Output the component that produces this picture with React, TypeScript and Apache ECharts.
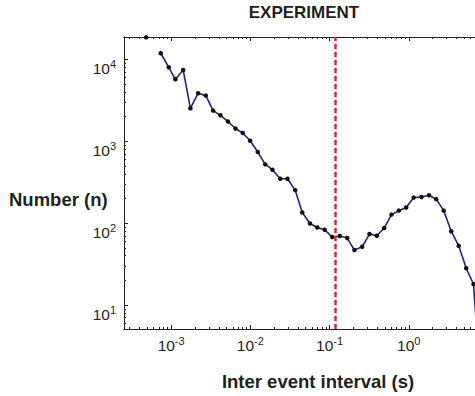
import React, { useEffect, useRef } from "react";
import * as echarts from "echarts";

// Inter event interval bins (s) and counts (count 0 = empty bin, gap)
const intervals = [
  4.83e-4, 5.97e-4, 7.39e-4, 9.33e-4, 1.13e-3, 1.42e-3, 1.75e-3, 2.19e-3, 2.74e-3, 3.39e-3,
  4.19e-3, 5.21e-3, 6.48e-3, 8.02e-3, 9.94e-3, 1.24e-2, 1.54e-2, 1.9e-2, 2.38e-2, 2.94e-2,
  3.68e-2, 4.52e-2, 5.66e-2, 7.0e-2, 8.67e-2, 0.108, 0.135, 0.167, 0.206, 0.258,
  0.319, 0.395, 0.489, 0.605, 0.748, 0.927, 1.156, 1.445, 1.8, 2.22,
  2.76, 3.43, 4.27, 5.31, 6.56, 8.13,
];
const counts = [
  18500, 0, 11840, 7980, 5700, 7400, 2520, 3850, 3600, 2360,
  2070, 1740, 1430, 1260, 1013, 738, 522, 449, 348, 348,
  253, 135, 98.8, 88.3, 83.0, 67.6, 69.5, 65.7, 46.9, 51.5,
  73.6, 70.2, 87.1, 127, 142, 155, 205, 208, 219, 196,
  142, 79.6, 52.8, 28.1, 18.0, 1,
];
const thresholdInterval = 0.117;
const xLimits = [2.54e-4, 10];
const yLimits = [5.1, 18700];
const xMajorTicks = [1e-3, 1e-2, 1e-1, 1, 10];
const xTickLabels = [1e-3, 1e-2, 1e-1, 1];
const yMajorTicks = [10, 100, 1000, 10000];
const minorMultipliers = [2, 3, 4, 5, 6, 7, 8, 9];
const decadesX = [1e-4, 1e-3, 1e-2, 1e-1, 1];
const decadesY = [1, 10, 100, 1000, 10000];

const titleText = "EXPERIMENT";
const xName = "Inter event interval (s)";
const yName = "Number (n)";

const FONT = "'Liberation Sans', Arial, Helvetica, sans-serif";
const TXT = "#231f20";

const lg = (v: number) => Math.log10(v);

function minorTicks(decades: number[], lim: number[]) {
  const out: number[] = [];
  decades.forEach((d) => minorMultipliers.forEach((m) => out.push(d * m)));
  return out.filter((v) => v > lim[0] && v < lim[1]).map(lg);
}

export default function App() {
  const ref = useRef<HTMLDivElement>(null);
  useEffect(() => {
    if (!ref.current) return;
    const chart = echarts.init(ref.current, null, { renderer: "svg" });

    const xMin = lg(xLimits[0]);
    const xMax = lg(xLimits[1]);
    const yMin = lg(yLimits[0]);
    const yMax = lg(yLimits[1]);
    const xMaj = xMajorTicks.map(lg);
    const xLab = xTickLabels.map(lg);
    const yMaj = yMajorTicks.map(lg);
    const xMin2 = minorTicks(decadesX, xLimits);
    const yMin2 = minorTicks(decadesY, yLimits);

    const data = intervals.map((x, i) =>
      counts[i] > 0 ? [lg(x), lg(counts[i])] : [lg(x), "-"]
    );

    const rich = {
      b: { fontSize: 15.5, fontFamily: FONT, color: TXT },
      s: { fontSize: 11, fontFamily: FONT, color: TXT, padding: [0, 0, 9, 0] },
    };
    const fmt = (v: number) => `{b|10}{s|${Math.round(v)}}`;

    const axLine = { show: true, onZero: false, lineStyle: { color: "#222", width: 1 } };
    const mkX = (pos: string, ticks: number[], len: number, labels: boolean) => ({
      type: "value",
      position: pos,
      min: xMin,
      max: xMax,
      gridIndex: 0,
      axisLine: axLine,
      splitLine: { show: false },
      axisTick: { show: true, inside: true, length: len, customValues: ticks, lineStyle: { color: "#222", width: 1 } },
      axisLabel: labels
        ? { show: true, customValues: xLab, formatter: fmt, rich, margin: 6 }
        : { show: false },
    });
    const mkY = (pos: string, ticks: number[], len: number, labels: boolean) => ({
      type: "value",
      position: pos,
      min: yMin,
      max: yMax,
      gridIndex: 0,
      axisLine: axLine,
      splitLine: { show: false },
      axisTick: { show: true, inside: true, length: len, customValues: ticks, lineStyle: { color: "#222", width: 1 } },
      axisLabel: labels
        ? { show: true, customValues: yMaj, formatter: fmt, rich, margin: 8, padding: [18, 0, 0, 0] }
        : { show: false },
    });

    chart.setOption({
      animation: false,
      grid: { left: 124, top: 37, width: 364, height: 292, containLabel: false, outerBoundsMode: "none" },
      xAxis: [
        mkX("bottom", xMaj, 4, true),
        mkX("top", xMaj, 4, false),
        mkX("bottom", xMin2, 2, false),
        mkX("top", xMin2, 2, false),
      ],
      yAxis: [
        mkY("left", yMaj, 4, true),
        mkY("right", yMaj, 4, false),
        mkY("left", yMin2, 2, false),
        mkY("right", yMin2, 2, false),
      ],
      graphic: [
        {
          type: "text",
          x: 304,
          y: 4,
          style: { text: titleText, font: `bold 17px ${FONT}`, fill: TXT, align: "center", verticalAlign: "top" },
        },
        {
          type: "text",
          x: 318,
          y: 372,
          style: { text: xName, font: `bold 18.5px ${FONT}`, fill: TXT, align: "center", verticalAlign: "top" },
        },
        {
          type: "text",
          x: 9,
          y: 199,
          style: { text: yName, font: `bold 18.5px ${FONT}`, fill: TXT, align: "left", verticalAlign: "middle" },
        },
      ],
      series: [
        {
          type: "line",
          data,
          xAxisIndex: 0,
          yAxisIndex: 0,
          showSymbol: true,
          showAllSymbol: true,
          symbol: "circle",
          symbolSize: 4.5,
          itemStyle: { color: "#111" },
          lineStyle: { color: "#22247e", width: 1.6 },
          connectNulls: false,
          silent: true,
          markLine: {
            silent: true,
            symbol: ["none", "none"],
            label: { show: false },
            lineStyle: { color: "#e3262d", width: 2.5, type: [5, 3] },
            data: [{ xAxis: lg(thresholdInterval) }],
          },
          z: 3,
        },
      ],
    });
    return () => chart.dispose();
  }, []);
  return (
    <div
      ref={ref}
      style={{ position: "absolute", left: 0, top: 0, width: 475, height: 396, background: "#fff" }}
    />
  );
}
